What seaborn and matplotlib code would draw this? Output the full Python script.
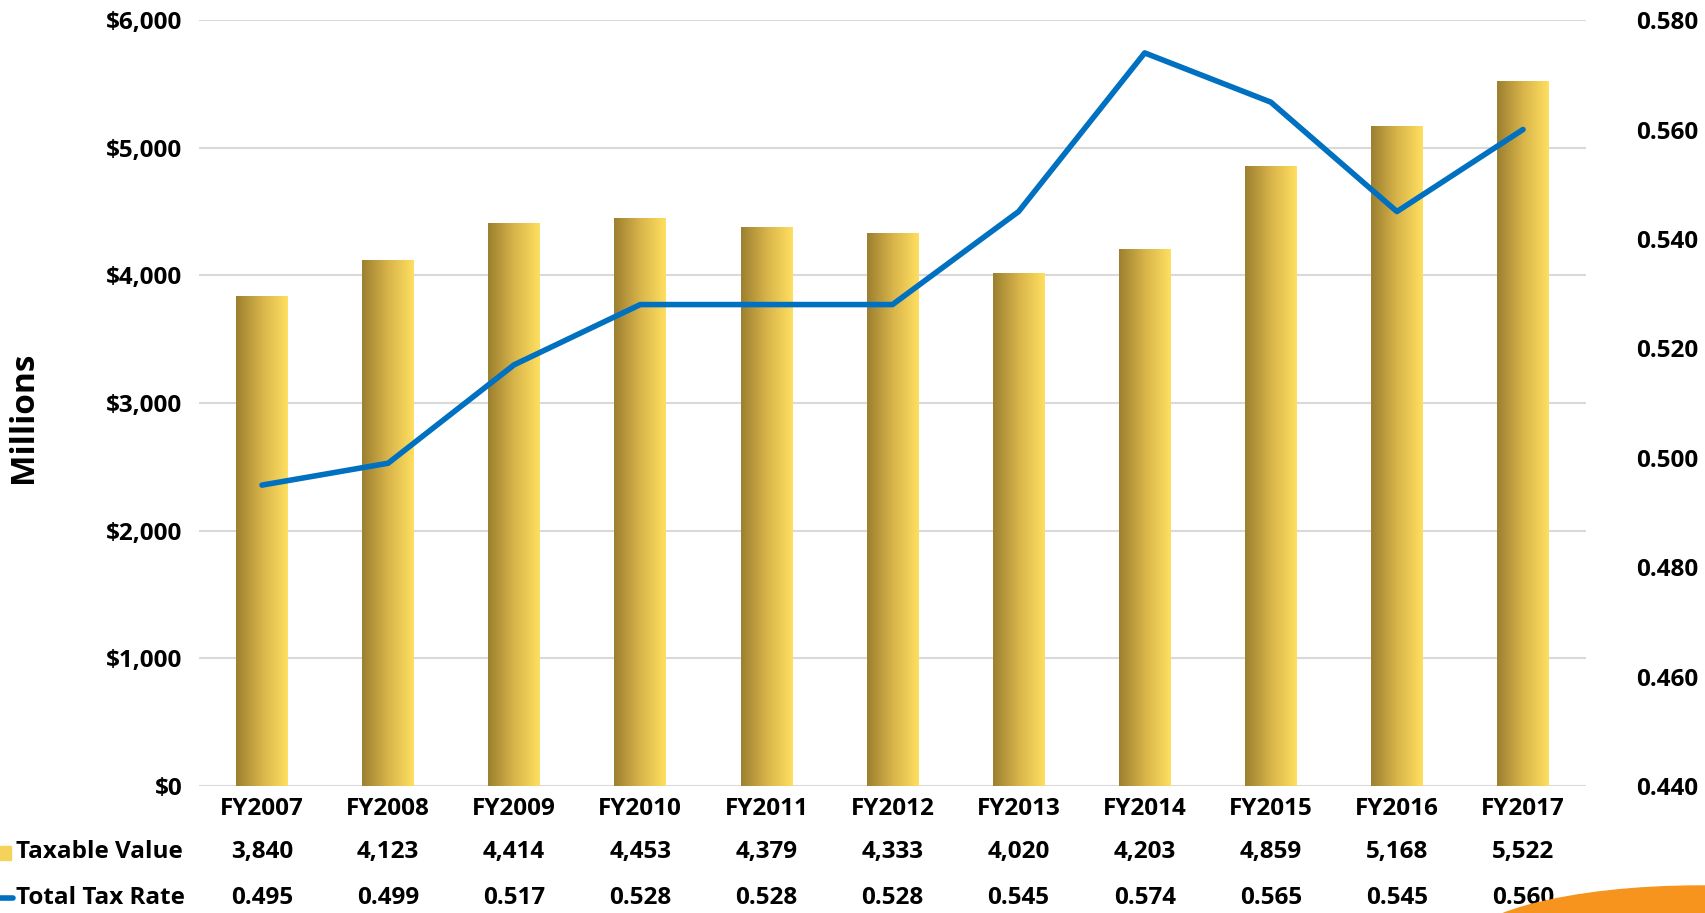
import matplotlib
matplotlib.use("Agg")
import matplotlib.pyplot as plt
from matplotlib.colors import LinearSegmentedColormap
from matplotlib.patches import Ellipse
from matplotlib.transforms import blended_transform_factory
import numpy as np
import pandas as pd
import seaborn as sns

# data
years = ['FY2007', 'FY2008', 'FY2009', 'FY2010', 'FY2011', 'FY2012',
         'FY2013', 'FY2014', 'FY2015', 'FY2016', 'FY2017']
taxable_value = [3840, 4123, 4414, 4453, 4379, 4333, 4020, 4203, 4859, 5168, 5522]
tax_rate = [0.495, 0.499, 0.517, 0.528, 0.528, 0.528, 0.545, 0.574, 0.565, 0.545, 0.560]

df = pd.DataFrame({'year': years, 'value': taxable_value, 'rate': tax_rate})
df['pos'] = range(len(df))

sns.set_theme(style='white')
plt.rcParams['font.family'] = ['Open Sans', 'DejaVu Sans']
plt.rcParams['font.weight'] = 'bold'
plt.rcParams['text.color'] = 'black'
plt.rcParams['xtick.color'] = 'black'
plt.rcParams['ytick.color'] = 'black'
fs = 17.5

fig = plt.figure(figsize=(17.06, 9.13), dpi=100)
ax = fig.add_axes([0.1166, 0.1391, 0.8131, 0.8389])

sns.barplot(data=df, x='pos', y='value', color='#e8c050', width=0.41,
            native_scale=True, ax=ax, zorder=2)

# gradient fill for the bars
gold = LinearSegmentedColormap.from_list('gold', ['#9c8030', '#d8b44a', '#ffdf60'])
grad = np.linspace(0, 1, 256).reshape(1, -1)
for p in list(ax.patches):
    x0, w, h = p.get_x(), p.get_width(), p.get_height()
    im = ax.imshow(grad, extent=[x0, x0 + w, 0, h], aspect='auto', cmap=gold,
                   zorder=2.5, interpolation='bicubic')
    im.set_clip_path(p)
    p.set_facecolor('none')
    p.set_edgecolor('none')

ax.set_xlim(-0.5, len(years) - 0.5)
ax.set_ylim(0, 6000)
ax.set_yticks(range(0, 6001, 1000))
ax.set_yticklabels([f'${v:,.0f}' for v in range(0, 6001, 1000)], fontsize=fs, fontweight='bold')
ax.set_xticks(df['pos'])
ax.set_xticklabels(years, fontsize=fs, fontweight='bold')
ax.tick_params(axis='x', length=0, pad=8)
ax.tick_params(axis='y', length=0, pad=12)
ax.yaxis.grid(True, color='#d9d9d9', lw=1.5, zorder=0)
ax.set_axisbelow(True)
for s in ax.spines.values():
    s.set_visible(False)
ax.set_xlabel('')
ax.set_ylabel('')
fig.text(24 / 1706, 1 - 417 / 913, 'Millions', rotation=90, ha='center', va='center',
         fontsize=24, fontweight='bold')

# secondary axis with the tax rate
ax2 = ax.twinx()
sns.lineplot(data=df, x='pos', y='rate', color='#0070c0', lw=4, ax=ax2, zorder=3)
ax2.set_ylim(0.44, 0.58)
ax2.set_yticks(np.arange(0.44, 0.5801, 0.02))
ax2.set_yticklabels([f'{v:.3f}' for v in np.arange(0.44, 0.5801, 0.02)],
                    fontsize=fs, fontweight='bold')
ax2.tick_params(axis='y', length=0, pad=36)
ax2.set_ylabel('')
for s in ax2.spines.values():
    s.set_visible(False)

# data table under the chart
tr = blended_transform_factory(ax.transData, fig.transFigure)
for i in df['pos']:
    ax.text(i, 1 - 852 / 913, f"{df['value'][i]:,}", transform=tr, ha='center',
            va='center', fontsize=fs, fontweight='bold')
    ax.text(i, 1 - 898 / 913, f"{df['rate'][i]:.3f}", transform=tr, ha='center',
            va='center', fontsize=fs, fontweight='bold')

fig.text(16 / 1706, 1 - 852 / 913, 'Taxable Value', ha='left', va='center',
         fontsize=fs, fontweight='bold')
fig.text(16 / 1706, 1 - 898 / 913, 'Total Tax Rate', ha='left', va='center',
         fontsize=fs, fontweight='bold')
fig.patches.append(plt.Rectangle((0, 1 - 860 / 913), 11 / 1706, 14 / 913,
                                 transform=fig.transFigure, color='#f5d35a'))
fig.lines.append(plt.Line2D([0, 13 / 1706], [1 - 898 / 913, 1 - 898 / 913],
                            transform=fig.transFigure, color='#0070c0', lw=4))

# orange swoosh in the corner
fig.patches.append(Ellipse((1700 / 1706, 1 - 950 / 913), 480 / 1706, 128 / 913,
                           transform=fig.transFigure, color='#f7941d', zorder=0))

fig.savefig('out.png', dpi=100)
